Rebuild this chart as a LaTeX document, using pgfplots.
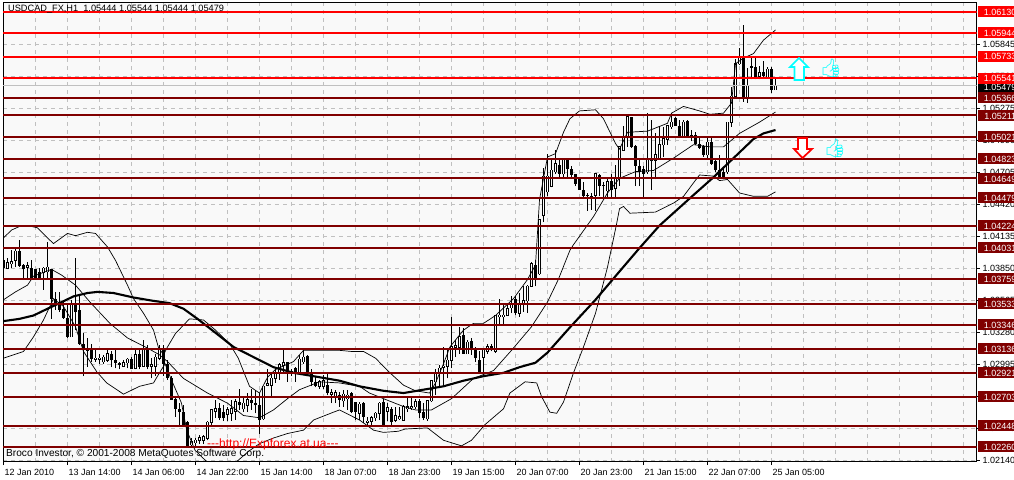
\documentclass[border=0pt]{standalone}
\usepackage{pgfplots}
\usepackage{pgfplotstable}
\usepackage{fontspec}
\setmainfont{Liberation Sans}
\newfontfamily\emojifont{Noto Emoji}
\pgfplotsset{compat=1.18}
\definecolor{lvred}{HTML}{FF0000}
\definecolor{lvdark}{HTML}{800000}
\definecolor{plotbg}{HTML}{F9F9F9}
\definecolor{gridc}{HTML}{C0C0C0}
\definecolor{aqua}{HTML}{00FFFF}
\pgfplotstableread{
k h l t b
0 1.0398 1.0385 1.0392 1.0385
4 1.0410 1.0386 1.0400 1.0387
5 1.0389 1.0376 1.0388 1.0384
7 1.0392 1.0375 1.0385 1.0376
8 1.0384 1.0375 1.0384 1.0376
9 1.0385 1.0375 1.0382 1.0376
12 1.0384 1.0340 1.0384 1.0358
13 1.0364 1.0348 1.0358 1.0354
14 1.0364 1.0346 1.0355 1.0348
15 1.0355 1.0340 1.0349 1.0341
16 1.0352 1.0323 1.0341 1.0324
18 1.0394 1.0330 1.0352 1.0346
19 1.0361 1.0317 1.0348 1.0318
20 1.0327 1.0289 1.0318 1.0313
22 1.0318 1.0302 1.0312 1.0304
27 1.0311 1.0297 1.0309 1.0303
28 1.0312 1.0296 1.0303 1.0301
29 1.0302 1.0295 1.0301 1.0299
32 1.0306 1.0295 1.0304 1.0295
34 1.0312 1.0295 1.0309 1.0297
36 1.0317 1.0295 1.0312 1.0297
40 1.0317 1.0289 1.0313 1.0300
41 1.0303 1.0286 1.0300 1.0287
42 1.0289 1.0268 1.0287 1.0268
43 1.0271 1.0253 1.0269 1.0260
44 1.0265 1.0246 1.0260 1.0257
45 1.0263 1.0246 1.0257 1.0246
46 1.0249 1.0226 1.0248 1.0226
54 1.0265 1.0250 1.0261 1.0252
55 1.0263 1.0249 1.0257 1.0252
59 1.0278 1.0259 1.0266 1.0263
62 1.0278 1.0259 1.0268 1.0265
63 1.0277 1.0256 1.0265 1.0263
64 1.0274 1.0238 1.0263 1.0250
71 1.0302 1.0284 1.0302 1.0292
73 1.0297 1.0284 1.0296 1.0292
76 1.0308 1.0292 1.0307 1.0293
77 1.0295 1.0280 1.0293 1.0284
78 1.0289 1.0279 1.0284 1.0280
81 1.0292 1.0272 1.0281 1.0274
84 1.0275 1.0262 1.0272 1.0268
87 1.0275 1.0256 1.0274 1.0257
88 1.0266 1.0250 1.0266 1.0257
90 1.0266 1.0247 1.0265 1.0253
95 1.0269 1.0244 1.0266 1.0246
97 1.0262 1.0246 1.0260 1.0248
104 1.0269 1.0252 1.0267 1.0256
105 1.0265 1.0250 1.0257 1.0252
115 1.0332 1.0309 1.0326 1.0309
117 1.0323 1.0308 1.0320 1.0312
118 1.0315 1.0302 1.0314 1.0305
119 1.0311 1.0292 1.0303 1.0292
122 1.0318 1.0311 1.0316 1.0312
128 1.0360 1.0343 1.0358 1.0345
133 1.0392 1.0369 1.0388 1.0376
139 1.0482 1.0466 1.0477 1.0469
141 1.0482 1.0466 1.0481 1.0473
142 1.0476 1.0466 1.0473 1.0468
143 1.0469 1.0458 1.0469 1.0460
144 1.0465 1.0455 1.0464 1.0455
145 1.0462 1.0448 1.0455 1.0449
146 1.0452 1.0436 1.0450 1.0449
149 1.0469 1.0449 1.0468 1.0458
150 1.0462 1.0447 1.0459 1.0458
152 1.0469 1.0448 1.0463 1.0455
157 1.0520 1.0492 1.0520 1.0493
158 1.0495 1.0458 1.0494 1.0476
159 1.0483 1.0458 1.0476 1.0471
160 1.0476 1.0448 1.0473 1.0469
168 1.0520 1.0512 1.0519 1.0512
169 1.0517 1.0502 1.0512 1.0503
171 1.0517 1.0501 1.0516 1.0502
172 1.0508 1.0498 1.0504 1.0502
173 1.0506 1.0495 1.0504 1.0496
174 1.0501 1.0491 1.0496 1.0492
175 1.0495 1.0484 1.0494 1.0486
177 1.0501 1.0477 1.0497 1.0478
178 1.0481 1.0471 1.0480 1.0472
179 1.0486 1.0464 1.0472 1.0466
180 1.0474 1.0464 1.0471 1.0465
185 1.0601 1.0533 1.0572 1.0536
187 1.0572 1.0553 1.0565 1.0563
188 1.0572 1.0553 1.0564 1.0555
190 1.0569 1.0554 1.0560 1.0556
192 1.0564 1.0541 1.0562 1.0544
}\blackcandles
\pgfplotstableread{
k h l t b
1 1.0394 1.0384 1.0390 1.0385
2 1.0401 1.0385 1.0391 1.0389
3 1.0404 1.0386 1.0400 1.0392
6 1.0391 1.0376 1.0387 1.0386
10 1.0386 1.0366 1.0385 1.0381
11 1.0408 1.0376 1.0386 1.0382
17 1.0357 1.0324 1.0352 1.0324
21 1.0323 1.0297 1.0314 1.0312
23 1.0312 1.0302 1.0305 1.0304
24 1.0309 1.0300 1.0305 1.0304
25 1.0308 1.0300 1.0306 1.0302
26 1.0312 1.0302 1.0309 1.0303
30 1.0303 1.0297 1.0301 1.0298
31 1.0305 1.0296 1.0304 1.0301
33 1.0312 1.0295 1.0308 1.0296
35 1.0321 1.0297 1.0312 1.0298
37 1.0305 1.0287 1.0299 1.0298
38 1.0309 1.0289 1.0306 1.0298
39 1.0317 1.0303 1.0312 1.0305
47 1.0234 1.0226 1.0231 1.0228
48 1.0234 1.0226 1.0232 1.0230
49 1.0237 1.0229 1.0234 1.0232
50 1.0237 1.0229 1.0235 1.0232
51 1.0249 1.0232 1.0248 1.0234
52 1.0260 1.0246 1.0259 1.0248
53 1.0268 1.0252 1.0260 1.0258
56 1.0262 1.0249 1.0259 1.0255
57 1.0268 1.0249 1.0260 1.0256
58 1.0269 1.0250 1.0266 1.0258
60 1.0271 1.0257 1.0265 1.0260
61 1.0274 1.0257 1.0268 1.0263
65 1.0280 1.0250 1.0280 1.0251
66 1.0295 1.0280 1.0282 1.0281
67 1.0293 1.0271 1.0287 1.0281
68 1.0297 1.0283 1.0292 1.0287
69 1.0301 1.0286 1.0299 1.0292
70 1.0312 1.0293 1.0301 1.0299
72 1.0295 1.0289 1.0293 1.0292
74 1.0308 1.0292 1.0304 1.0293
75 1.0312 1.0300 1.0306 1.0302
79 1.0286 1.0278 1.0284 1.0280
80 1.0290 1.0278 1.0285 1.0280
82 1.0278 1.0265 1.0274 1.0273
83 1.0277 1.0265 1.0274 1.0271
85 1.0277 1.0262 1.0273 1.0267
86 1.0277 1.0259 1.0272 1.0269
89 1.0266 1.0250 1.0264 1.0256
91 1.0253 1.0246 1.0249 1.0248
92 1.0254 1.0246 1.0252 1.0249
93 1.0257 1.0249 1.0256 1.0252
94 1.0266 1.0250 1.0265 1.0256
96 1.0265 1.0249 1.0261 1.0258
98 1.0262 1.0248 1.0254 1.0250
99 1.0262 1.0250 1.0253 1.0251
100 1.0263 1.0250 1.0262 1.0250
101 1.0271 1.0257 1.0262 1.0260
102 1.0271 1.0259 1.0262 1.0261
103 1.0269 1.0260 1.0266 1.0262
106 1.0268 1.0249 1.0267 1.0251
107 1.0286 1.0266 1.0285 1.0267
108 1.0295 1.0272 1.0292 1.0284
109 1.0299 1.0280 1.0296 1.0292
110 1.0315 1.0280 1.0298 1.0297
111 1.0312 1.0287 1.0303 1.0298
112 1.0342 1.0296 1.0315 1.0303
113 1.0321 1.0306 1.0316 1.0315
114 1.0333 1.0309 1.0324 1.0315
116 1.0321 1.0309 1.0319 1.0309
120 1.0314 1.0293 1.0312 1.0306
121 1.0318 1.0309 1.0315 1.0311
123 1.0343 1.0310 1.0343 1.0311
124 1.0358 1.0335 1.0343 1.0342
125 1.0352 1.0335 1.0343 1.0342
126 1.0352 1.0343 1.0349 1.0343
127 1.0360 1.0345 1.0354 1.0350
129 1.0363 1.0342 1.0353 1.0345
130 1.0369 1.0346 1.0356 1.0353
131 1.0370 1.0345 1.0369 1.0356
132 1.0391 1.0369 1.0389 1.0369
134 1.0429 1.0379 1.0428 1.0380
135 1.0474 1.0426 1.0467 1.0432
136 1.0487 1.0449 1.0467 1.0453
137 1.0482 1.0457 1.0472 1.0458
138 1.0490 1.0469 1.0478 1.0471
140 1.0482 1.0466 1.0481 1.0469
147 1.0452 1.0437 1.0449 1.0449
148 1.0470 1.0436 1.0469 1.0450
151 1.0464 1.0448 1.0462 1.0454
153 1.0477 1.0448 1.0466 1.0456
154 1.0493 1.0458 1.0493 1.0466
155 1.0512 1.0490 1.0501 1.0490
156 1.0522 1.0493 1.0520 1.0501
161 1.0523 1.0469 1.0481 1.0471
162 1.0517 1.0455 1.0482 1.0481
163 1.0505 1.0464 1.0486 1.0481
164 1.0512 1.0483 1.0495 1.0483
165 1.0511 1.0484 1.0500 1.0495
166 1.0512 1.0495 1.0512 1.0500
167 1.0523 1.0509 1.0515 1.0511
170 1.0517 1.0501 1.0515 1.0502
176 1.0501 1.0483 1.0497 1.0486
181 1.0515 1.0469 1.0515 1.0471
182 1.0546 1.0511 1.0538 1.0515
183 1.0571 1.0536 1.0567 1.0538
184 1.0581 1.0566 1.0572 1.0567
186 1.0563 1.0532 1.0547 1.0536
189 1.0565 1.0553 1.0559 1.0556
191 1.0564 1.0554 1.0562 1.0555
193 1.0553 1.0544 1.0547 1.0544
}\whitecandles
\pgfplotstableread{
k p
0 1.0338
4 1.0340
7.5 1.0343
11 1.0349
14 1.0354
17.5 1.0360
21 1.0363
23.5 1.0364
27.5 1.0363
32.5 1.0359
37.5 1.0356
41.5 1.0354
45 1.0349
48.5 1.0340
52.5 1.0329
57.5 1.0315
62.5 1.0306
67.5 1.0297
72.5 1.0292
77.5 1.0289
84 1.0285
89 1.0280
95 1.0276
100 1.0274
105 1.0277
110 1.0280
115 1.0285
120 1.0289
125 1.0292
129 1.0297
133 1.0301
136 1.0310
141.5 1.0332
148 1.0357
153 1.0378
159 1.0403
164 1.0423
171.5 1.0447
177.5 1.0466
182.5 1.0483
187.5 1.0500
190 1.0505
193 1.0508
}\ma
\pgfplotstableread{
k p
0 1.0412
2 1.0419
4.5 1.0423
6 1.0423
8.5 1.0421
11 1.0412
12.5 1.0407
16 1.0416
18 1.0414
21 1.0417
23 1.0416
24 1.0412
26 1.0404
28 1.0392
31 1.0370
32.5 1.0358
35 1.0345
37.5 1.0330
38.7 1.0315
40 1.0308
41 1.0315
43 1.0327
46.5 1.0340
50 1.0339
53 1.0330
56.5 1.0318
58.7 1.0305
61.5 1.0280
64 1.0274
66 1.0288
68 1.0295
72.5 1.0302
75 1.0312
81 1.0312
84 1.0312
87 1.0311
90 1.0311
93 1.0305
96.6 1.0292
100 1.0281
103 1.0276
106.5 1.0274
108 1.0283
110 1.0300
111.6 1.0315
115 1.0330
117.5 1.0336
120 1.0336
123 1.0343
127.5 1.0358
131 1.0375
133 1.0388
134 1.0446
136 1.0484
138 1.0487
140 1.0506
141.6 1.0518
144 1.0525
148 1.0526
150 1.0518
153 1.0496
154 1.0491
156 1.0506
161 1.0507
166 1.0514
167 1.0523
170 1.0529
174 1.0525
176.6 1.0522
180 1.0523
182 1.0532
183 1.0567
185 1.0572
187.5 1.0576
190 1.0588
193 1.0597
}\bbupper
\pgfplotstableread{
k p
0 1.0357
3 1.0364
6 1.0370
7.5 1.0378
12 1.0384
14.5 1.0379
18 1.0370
21.6 1.0355
26.6 1.0336
31 1.0323
36 1.0314
39 1.0308
41 1.0302
45 1.0287
51 1.0274
56 1.0265
60 1.0254
64 1.0252
67.5 1.0259
71 1.0269
74 1.0277
79 1.0284
84 1.0283
89 1.0280
91.5 1.0274
95 1.0269
100 1.0262
103 1.0259
107 1.0259
112 1.0269
117.5 1.0287
122.5 1.0294
127 1.0312
132 1.0333
136 1.0355
138.7 1.0375
141.6 1.0401
142.5 1.0406
147.5 1.0431
151 1.0452
154 1.0465
158 1.0471
162.5 1.0472
167.5 1.0483
172.5 1.0495
176.6 1.0493
180 1.0493
184 1.0505
189 1.0515
193 1.0524
}\bbmiddle
\pgfplotstableread{
k p
0 1.0305
5 1.0311
7.5 1.0324
10 1.0339
12.5 1.0358
15 1.0351
18 1.0333
20 1.0311
23.3 1.0293
25.8 1.0283
30 1.0273
34 1.0280
37.5 1.0283
39 1.0292
40.4 1.0300
41.6 1.0289
44.5 1.0265
45.8 1.0241
47.9 1.0223
50.8 1.0213
54 1.0205
58.3 1.0213
61.2 1.0222
64 1.0229
67.5 1.0234
71 1.0238
75 1.0241
77.5 1.0250
82.5 1.0257
84 1.0259
89 1.0250
92.5 1.0241
95 1.0239
98.7 1.0240
100.4 1.0242
106 1.0243
110 1.0232
114.5 1.0227
117 1.0232
120.4 1.0246
125 1.0260
126.6 1.0274
130.4 1.0284
133.3 1.0283
134.5 1.0271
136.6 1.0257
138.3 1.0256
140 1.0266
142.5 1.0292
145 1.0315
148 1.0345
151 1.0386
153.3 1.0425
154 1.0438
155 1.0440
156.6 1.0434
163 1.0435
167.5 1.0443
170 1.0449
172.5 1.0461
174 1.0468
177.5 1.0467
179 1.0463
181 1.0464
184 1.0452
187.5 1.0449
191 1.0449
193 1.0453
}\bblower
\newcommand{\lvlab}[3]{\node[fill=#1,text=white,inner xsep=0pt,inner ysep=0pt,minimum height=11pt,minimum width=36pt,anchor=west,font=\fontsize{9}{10}\selectfont] at (978pt,{479-#2}) {\hspace*{4pt}#3\hspace*{-4pt}};}
\begin{document}
\begin{tikzpicture}[x=1pt,y=1pt]
\useasboundingbox (0,0) rectangle (1014,479);
\fill[white] (0,0) rectangle (1014,479);
\begin{axis}[
  at={(3pt,17pt)},anchor=south west,
  scale only axis,width=973.5pt,height=459pt,
  xmin=-0.125,xmax=243.25,ymin=1.021266,ymax=1.062101,
  axis background/.style={fill=plotbg},
  axis line style={black,line width=1pt},
  xtick={0,16,...,192},
  minor xtick={0,8,...,240},
  xticklabels={12 Jan 2010,13 Jan 14:00,14 Jan 06:00,14 Jan 22:00,15 Jan 14:00,18 Jan 07:00,18 Jan 23:00,19 Jan 15:00,20 Jan 07:00,20 Jan 23:00,21 Jan 15:00,22 Jan 07:00,25 Jan 05:00},
  xticklabel style={anchor=north west,xshift=-2.5pt,yshift=-0.5pt,font=\fontsize{9}{10}\selectfont},
  ytick={1.05845,1.05560,1.05275,1.04990,1.04705,1.04420,1.04135,1.03850,1.03565,1.03280,1.02995,1.02710,1.02425,1.02140},
  ytick pos=right,xtick pos=bottom,
  yticklabel pos=right,
  tick align=outside,
  major tick length=3pt,minor tick length=0pt,
  tick style={black,line width=0.8pt},
  scaled y ticks=false,
  yticklabel style={/pgf/number format/fixed,/pgf/number format/fixed zerofill,/pgf/number format/precision=5,/pgf/number format/assume math mode=true,/pgf/number format/1000 sep={},anchor=west,xshift=-0.5pt,font=\fontsize{9}{10}\selectfont},
  xminorgrids=true,ymajorgrids=true,xmajorgrids=false,
  grid style={gridc,dashed,line width=0.8pt,dash pattern=on 4pt off 4pt},
  minor grid style={gridc,line width=0.8pt,dash pattern=on 4pt off 4pt},
  axis on top=false,
  clip=true,
  clip mode=individual,
]
% wicks
\addplot[draw=none,mark=none,forget plot,error bars/.cd,y dir=plus,y explicit,error mark=none,error bar style={black,line width=1pt}] table[x=k,y=l,y error expr=\thisrow{h}-\thisrow{l}] {\blackcandles};
\addplot[draw=none,mark=none,forget plot,error bars/.cd,y dir=plus,y explicit,error mark=none,error bar style={black,line width=1pt}] table[x=k,y=l,y error expr=\thisrow{h}-\thisrow{l}] {\whitecandles};
% bodies
\addplot[draw=none,mark=none,forget plot,error bars/.cd,y dir=plus,y explicit,error mark=none,error bar style={black,line width=3pt}] table[x=k,y=b,y error expr=\thisrow{t}-\thisrow{b}] {\blackcandles};
\addplot[draw=none,mark=none,forget plot,error bars/.cd,y dir=plus,y explicit,error mark=none,error bar style={black,line width=3pt}] table[x=k,y expr=\thisrow{b}-0.00005,y error expr=\thisrow{t}-\thisrow{b}+0.0001] {\whitecandles};
\addplot[draw=none,mark=none,forget plot,error bars/.cd,y dir=plus,y explicit,error mark=none,error bar style={white,line width=1pt}] table[x=k,y=b,y error expr=\thisrow{t}-\thisrow{b}] {\whitecandles};
% bands and average
\addplot[black,line width=0.7pt,no marks] table[x=k,y=p] {\bbupper};
\addplot[black,line width=0.7pt,no marks] table[x=k,y=p] {\bbmiddle};
\addplot[black,line width=0.7pt,no marks] table[x=k,y=p] {\bblower};
\addplot[black,line width=2.1pt,no marks] table[x=k,y=p] {\ma};
% current price line
\addplot[gridc,line width=1pt,no marks] coordinates {(-0.125,1.05479) (243.25,1.05479)};
% levels
\pgfplotsinvokeforeach{1.06130,1.05944,1.05733,1.05541}{
  \addplot[lvred,line width=2pt,no marks] coordinates {(-0.125,#1) (243.25,#1)};
}
\pgfplotsinvokeforeach{1.05366,1.05211,1.05021,1.04823,1.04649,1.04479,1.04224,1.04031,1.03759,1.03533,1.03346,1.03136,1.02921,1.02703,1.02448,1.02260}{
  \addplot[lvdark,line width=2pt,no marks] coordinates {(-0.125,#1) (243.25,#1)};
}
\end{axis}
% right side labels
\node[fill=black,text=white,inner xsep=0pt,inner ysep=0pt,minimum height=11pt,minimum width=36pt,anchor=west,font=\fontsize{9}{10}\selectfont] at (978,{479-87}) {\hspace*{4pt}1.05479\hspace*{-4pt}};
\lvlab{lvred}{12}{1.06130}
\lvlab{lvred}{33}{1.05944}
\lvlab{lvred}{56.5}{1.05733}
\lvlab{lvred}{78.5}{1.05541}
\lvlab{lvdark}{98}{1.05366}
\lvlab{lvdark}{116}{1.05211}
\lvlab{lvdark}{137}{1.05021}
\lvlab{lvdark}{159}{1.04823}
\lvlab{lvdark}{179}{1.04649}
\lvlab{lvdark}{198}{1.04479}
\lvlab{lvdark}{226}{1.04224}
\lvlab{lvdark}{248}{1.04031}
\lvlab{lvdark}{279}{1.03759}
\lvlab{lvdark}{304}{1.03533}
\lvlab{lvdark}{325}{1.03346}
\lvlab{lvdark}{349}{1.03136}
\lvlab{lvdark}{373}{1.02921}
\lvlab{lvdark}{397}{1.02703}
\lvlab{lvdark}{426}{1.02448}
\lvlab{lvdark}{447}{1.02260}
% texts
\node[anchor=west,inner sep=0pt,font=\fontsize{9.2}{10}\selectfont] at (8,{479-9.5}) {USDCAD\_FX,H1\ \ 1.05444 1.05544 1.05444 1.05479};
\node[anchor=west,inner sep=0pt,font=\fontsize{10.15}{11}\selectfont] at (6,{479-453.5}) {Broco Investor, © 2001-2008 MetaQuotes Software Corp.};
\node[anchor=west,inner sep=0pt,text=red,font=\fontsize{12}{13}\selectfont] at (207,{479-444}) {{-}{-}{-}http://Expforex.at.ua{-}{-}{-}};
% arrows
\draw[aqua,line width=1.7pt,fill=white] (799,{479-58}) -- (808,{479-67}) -- (804,{479-67}) -- (804,{479-80}) -- (794.5,{479-80}) -- (794.5,{479-67}) -- (790,{479-67}) -- cycle;
\draw[red,line width=1.7pt,fill=white] (802.5,{479-158}) -- (812,{479-149}) -- (807,{479-149}) -- (807,{479-138}) -- (798,{479-138}) -- (798,{479-149}) -- (794,{479-149}) -- cycle;
\node[text=aqua,inner sep=0pt,font=\emojifont\fontsize{18}{18}\selectfont] at (831,{479-68}) {^^^^^1f44d};
\node[text=aqua,inner sep=0pt,font=\emojifont\fontsize{18}{18}\selectfont] at (835,{479-148}) {^^^^^1f44d};
\end{tikzpicture}
\end{document}
